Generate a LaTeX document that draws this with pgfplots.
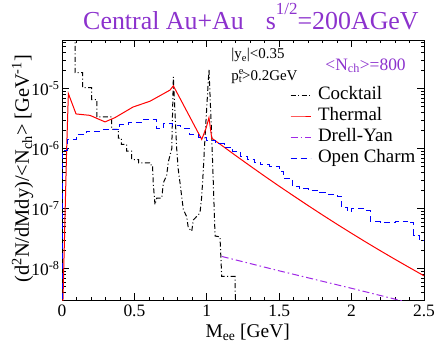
\documentclass[border=0pt]{standalone}
\usepackage{fontspec}
\setmainfont{Liberation Serif}
\usepackage{pgfplots}
\pgfplotsset{compat=1.18}
\definecolor{tpurple}{RGB}{140,50,205}
\definecolor{dypurple}{RGB}{160,40,230}
\begin{document}
\begin{tikzpicture}
\begin{axis}[
  at={(0,0)}, anchor=south west,
  scale only axis, width=362bp, height=260bp,
  xmin=0, xmax=2.5, ymode=log, ymin=3e-9, ymax=6.5e-5,
  xtick={0,0.5,1,1.5,2,2.5},
  minor xtick={0.1,0.2,0.3,0.4,0.6,0.7,0.8,0.9,1.1,1.2,1.3,1.4,1.6,1.7,1.8,1.9,2.1,2.2,2.3,2.4},
  ytick={1e-8,1e-7,1e-6,1e-5},
  yticklabels={10\textsuperscript{-8},10\textsuperscript{-7},10\textsuperscript{-6},10\textsuperscript{-5}},
  minor ytick={4e-9,5e-9,6e-9,7e-9,8e-9,9e-9,2e-8,3e-8,4e-8,5e-8,6e-8,7e-8,8e-8,9e-8,2e-7,3e-7,4e-7,5e-7,6e-7,7e-7,8e-7,9e-7,2e-6,3e-6,4e-6,5e-6,6e-6,7e-6,8e-6,9e-6,2e-5,3e-5,4e-5,5e-5,6e-5},
  /pgf/number format/assume math mode=true,
  tick align=inside,
  major tick length=7bp, minor tick length=3.5bp,
  every tick/.style={black, line width=0.7pt},
  axis line style={line width=0.9pt},
  tick label style={font=\fontsize{17.5}{18}\selectfont},
  xticklabel style={yshift=-1bp},
  yticklabel style={xshift=1bp},
  clip mode=individual,
  legend style={at={(rel axis cs:0.63,0.825)}, anchor=north west, draw=none, fill=none,
    inner sep=0pt, outer sep=0pt,
    font=\fontsize{19}{21}\selectfont, row sep=2bp,
    nodes={inner sep=0pt, text height=14bp, text depth=5bp},
    /tikz/every odd column/.append style={column sep=7bp}},
  legend cell align=left,
  legend image code/.code={\draw[mark repeat=2,mark phase=2,#1] plot coordinates {(0bp,0bp)(10bp,0bp)(20bp,0bp)};},
]
% Cocktail
\addplot[black, line width=1bp, dash pattern=on 5bp off 2.5bp on 1bp off 2.5bp] coordinates {
(0.09,1e-3)(0.09,1.85e-5)(0.143,1.85e-5)(0.143,1.04e-5)(0.205,1.04e-5)(0.205,6.6e-6)
(0.24,6.6e-6)(0.24,3.4e-6)(0.343,3.4e-6)(0.343,2.1e-6)(0.389,2.1e-6)(0.389,1.5e-6)
(0.41,1.5e-6)(0.41,1.18e-6)(0.447,1.18e-6)(0.447,9.1e-7)(0.481,9.1e-7)(0.481,6.6e-7)
(0.53,6.6e-7)(0.53,5.8e-7)(0.605,5.8e-7)(0.605,5.4e-7)(0.625,5.4e-7)(0.63,2.7e-7)
(0.642,1.17e-7)(0.654,1.5e-7)(0.689,1.5e-7)(0.70,2.7e-7)(0.723,3.6e-7)(0.734,6.0e-7)
(0.758,1.0e-6)(0.769,1.57e-5)(0.792,1.0e-6)(0.803,4.5e-7)(0.815,2.7e-7)(0.838,9.6e-8)
(0.861,7.4e-8)(0.872,4.8e-8)(0.896,4.2e-8)(0.907,6.5e-8)(0.93,7.4e-8)(0.953,8.5e-8)
(0.965,1.6e-7)(0.976,4.5e-7)(0.988,1.6e-6)(1.015,2.1e-5)(1.034,1.6e-6)(1.045,2.7e-7)
(1.057,3.5e-8)(1.091,3.4e-8)(1.103,7.4e-9)(1.195,7.4e-9)(1.20,1e-9)
};
\addlegendentry{Cocktail}
% Thermal
\addplot[red, line width=1bp] coordinates {
(0.005,2e-9)(0.032,9.6e-7)(0.044,8.3e-6)(0.097,3.8e-6)(0.193,3.6e-6)(0.297,2.8e-6)
(0.366,3.3e-6)(0.49,4.95e-6)(0.608,6.2e-6)(0.746,9.5e-6)(0.769,1.12e-5)(0.965,1.43e-6)
(0.995,2.2e-6)(1.015,3.3e-6)(1.034,1.5e-6)(1.1,1.15e-6)(1.2,7.67e-7)(1.3,5.15e-7)
(1.4,3.48e-7)(1.5,2.37e-7)(1.6,1.63e-7)(1.7,1.125e-7)(1.8,7.83e-8)(1.9,5.49e-8)
(2.0,3.88e-8)(2.1,2.76e-8)(2.2,1.98e-8)(2.3,1.43e-8)(2.4,1.04e-8)(2.5,7.6e-9)
};
\addlegendentry{Thermal}
% Drell-Yan
\addplot[dypurple, line width=1bp, dash pattern=on 7bp off 3bp on 1.5bp off 3bp] coordinates {
(1.103,1.6e-8)(1.5,9.2e-9)(2.0,4.7e-9)(2.5,2.35e-9)
};
\addlegendentry{Drell-Yan}
% Open charm
\addplot[blue, line width=1bp, dash pattern=on 6bp off 4bp, const plot] coordinates {
(0,1e-10)(0,9.3e-7)(0.04,1.43e-6)(0.10,1.73e-6)(0.17,1.97e-6)(0.28,2.1e-6)(0.40,2.55e-6)
(0.46,2.75e-6)(0.56,3.1e-6)(0.65,2.2e-6)(0.70,2.65e-6)(0.76,2.45e-6)(0.82,2.2e-6)
(0.88,1.75e-6)(0.94,1.55e-6)(1.00,1.38e-6)(1.06,1.2e-6)(1.12,1.05e-6)(1.18,9.0e-7)
(1.23,7.5e-7)(1.28,6.6e-7)(1.33,6.0e-7)(1.37,5.4e-7)(1.43,5.1e-7)(1.50,4.2e-7)
(1.53,3.2e-7)(1.59,2.36e-7)(1.64,2.14e-7)(1.70,2.0e-7)(1.78,1.85e-7)(1.83,1.75e-7)
(1.90,1.6e-7)(1.93,1.05e-7)(1.97,9.0e-8)(2.00,1.0e-7)(2.06,1.0e-7)(2.09,9.2e-8)
(2.13,6.1e-8)(2.20,5.8e-8)(2.30,6.0e-8)(2.36,6.2e-8)(2.40,5.8e-8)(2.43,3.6e-8)
(2.47,3.0e-8)(2.50,3.0e-8)
};
\addlegendentry{Open Charm}
% texts
\node[anchor=base, text=tpurple, font=\fontsize{26}{30}\selectfont] at (rel axis cs:0.522,1.0385)
  {Central Au+Au\hspace{0.85em}s\raisebox{0.6em}{\fontsize{17}{17}\selectfont 1/2}=200AGeV};
\node[anchor=base, font=\fontsize{19.5}{22}\selectfont] at (rel axis cs:0.513,-0.1423) {M\textsubscript{ee} [GeV]};
\node[anchor=base, rotate=90, font=\fontsize{20.5}{24}\selectfont] at (rel axis cs:-0.0912,0.505)
  {(d\textsuperscript{2}N/dMdy)/<N\textsubscript{ch}> [GeV\textsuperscript{-1}]};
\node[anchor=base west, font=\fontsize{15}{16}\selectfont] at (rel axis cs:0.458,0.927) {|y\textsubscript{e}|<0.35};
\node[anchor=base west, font=\fontsize{15}{16}\selectfont] at (rel axis cs:0.458,0.846) {p\rlap{\textsuperscript{e}}\textsubscript{t}>0.2GeV};
\node[anchor=base west, text=tpurple, font=\fontsize{17.5}{18}\selectfont] at (rel axis cs:0.718,0.8846) {<N\textsubscript{ch}>=800};
\end{axis}
\pgfresetboundingbox
\path (-62bp,-47bp) rectangle (374bp,300bp);
\end{tikzpicture}
\end{document}
